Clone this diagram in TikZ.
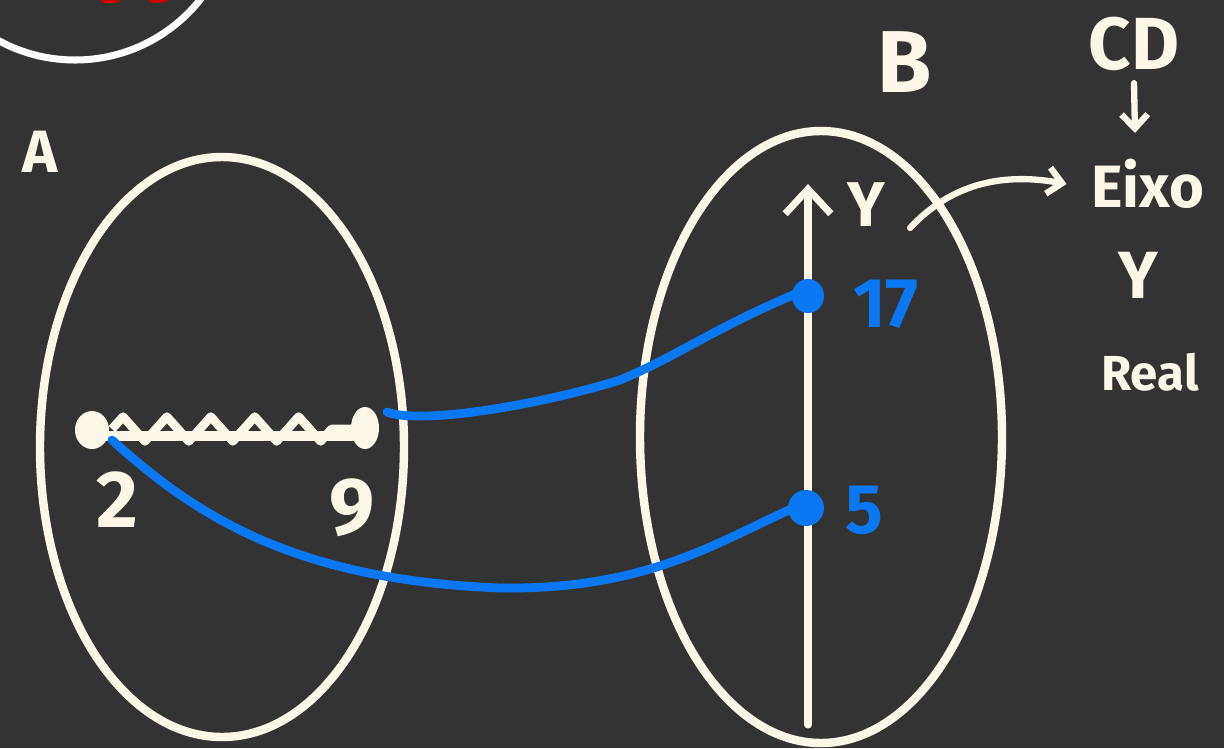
\documentclass[tikz,border=0pt]{standalone}
\usepackage{fontspec}
\setmainfont{Fira Sans}
\usetikzlibrary{arrows.meta,decorations.pathmorphing}
\definecolor{bg}{HTML}{333333}
\definecolor{cream}{HTML}{FCF7E8}
\definecolor{pblue}{HTML}{0A78F2}
\definecolor{pred}{HTML}{D40000}
\tikzset{
  chalk/.style={draw=cream,line width=4.8pt,line cap=round,line join=round},
  bluestroke/.style={draw=pblue,line width=5pt,line cap=round,line join=round},
  lbl/.style={text=cream,inner sep=0pt},
  blbl/.style={text=pblue,inner sep=0pt,font=\bfseries\fontsize{40}{40}\selectfont},
  thinarrow/.style={cream,line width=3.6pt,line cap=round,-{Straight Barb[length=8pt,width=15pt,line width=3.6pt]}},
}
\begin{document}
\begin{tikzpicture}[x=0.02cm,y=-0.02cm]
\fill[bg] (0,0) rectangle (1224,748);
\useasboundingbox (0,0) rectangle (1224,748);
% partial circle top-left
\draw[white,line width=4pt] (75,-100) circle (160);
\fill[pred] (100,0) -- (120,0) -- (117,3) -- (104,3) -- cycle;
\fill[pred] (148,0) -- (168,0) -- (164,2.5) -- (151,2.5) -- cycle;
% set A
\draw[chalk] (222,447) ellipse (182 and 290);
\node[lbl,font=\bfseries\fontsize{34}{34}\selectfont] (A) at (40,152) {A};
% segment
\coordinate (s2) at (92,430);
\coordinate (s9) at (365,428);
\fill[cream] (s2) ellipse (17 and 19);
\fill[cream] (s9) ellipse (14 and 21);
\draw[cream,line width=6pt] (100,436) -- (358,436);
\draw[cream,line width=5pt,line join=round,decorate,decoration={zigzag,segment length=25,amplitude=7}] (112,429) -- (352,429);
\node[lbl,font=\bfseries\fontsize{46}{46}\selectfont] (n2) at (117,500) {2};
\node[lbl,font=\bfseries\fontsize{46}{46}\selectfont] (n9) at (352,508) {9};
% set B
\draw[chalk] (821,437) ellipse (181 and 306);
\node[lbl,font=\bfseries\fontsize{50}{50}\selectfont] (B) at (905,62) {B};
\coordinate (ybot) at (808,725);
\coordinate (ytop) at (808,184);
\draw[cream,line width=4pt,line cap=round,-{Straight Barb[length=14pt,width=26pt,line width=4pt]}] (ybot) -- (ytop);
\node[lbl,font=\bfseries\fontsize{36}{36}\selectfont] (Y) at (866,205) {Y};
% points
\fill[pblue] (808,296) ellipse (16 and 17);
\fill[pblue] (806,508) ellipse (18 and 18);
\coordinate (p17) at (800,292);
\coordinate (p5) at (798,506);
\node[blbl] (n17) at (886,304) {17};
\node[blbl] (n5) at (864,510) {5};
% mappings
\draw[bluestroke] (s9) ++(22,-16) coordinate (c1start)
  .. controls (420,425) and (540,405) .. (620,380)
  .. controls (680,355) and (710,330) .. (p17);
\draw[bluestroke] (112,440) .. controls (200,520) and (300,580) .. (500,588)
  .. controls (650,590) and (720,540) .. (p5);
% side notes
\node[lbl,font=\bfseries\fontsize{42}{42}\selectfont] (CD) at (1134,44) {CD};
\node[lbl,font=\bfseries\fontsize{34}{34}\selectfont] (eixo) at (1148,184) {Eixo};
\node[lbl,font=\bfseries\fontsize{38}{38}\selectfont] (Yr) at (1138,275) {Y};
\node[lbl,font=\bfseries\fontsize{28}{28}\selectfont] (real) at (1150,372) {Real};
\draw[thinarrow] (CD.south) ++(0,12) -- (1135,133);
\coordinate (ys) at (910,228);
\draw[thinarrow] (ys) .. controls (950,185) and (1000,172) .. ([xshift=-14]eixo.west);
\end{tikzpicture}
\end{document}
